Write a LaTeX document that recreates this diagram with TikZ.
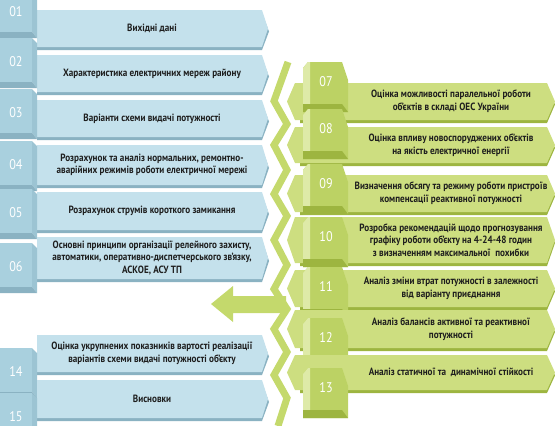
\documentclass[tikz,border=0pt]{standalone}
\usepackage{fontspec}
\setmainfont{PT Sans}[FakeStretch=0.87]
\definecolor{bban}{HTML}{C4E1EC}
\definecolor{btab}{HTML}{A9D0DE}
\definecolor{bside}{HTML}{9CC4D3}
\definecolor{bdark}{HTML}{8AB2C2}
\definecolor{gban}{HTML}{CDDE80}
\definecolor{gtab}{HTML}{BCD264}
\definecolor{glight}{HTML}{DEEAA8}
\definecolor{gdark}{HTML}{9DB540}
\definecolor{gzig}{HTML}{C4D96C}
\definecolor{txt}{HTML}{1E1E1E}
\tikzset{
  btxt/.style={align=center,text=txt,font=\bfseries\fontsize{10.5}{12.6}\selectfont,inner sep=0pt},
  gtxt/.style={align=center,text=txt,font=\bfseries\fontsize{10.5}{12.6}\selectfont,inner sep=0pt},
  numtxt/.style={text=white,font=\fontsize{14}{14}\selectfont,inner sep=0pt},
}
\begin{document}
\begin{tikzpicture}[x=1pt,y=-1pt]
\useasboundingbox (0,0) rectangle (555,426);
\clip (0,0) rectangle (555,426);
% zigzag connector band
\draw[gzig,line width=7pt,line join=miter,miter limit=10]
  (288,62) -- (274,101) -- (287,124) -- (274,145) -- (287,170) -- (274,194)
  -- (287,216) -- (274,240) -- (287,265) -- (274,289) -- (287,309) -- (274,329)
  -- (287,352) -- (274,375) -- (287,398) -- (278,426);
% big arrow
\fill[gzig] (211,304) -- (233,286) -- (233,296) -- (286,296) -- (286,313)
  -- (233,313) -- (233,322) -- cycle;
% ---------- blue column ----------
\foreach \nm/\ny/\t/\b/\txt in {
  01/12/10/47/{Вихідні дані},
  02/62/55/92/{Характеристика електричних мереж району},
  03/113/100/137/{Варіанти схеми видачі потужності},
  04/165/145/185/{Розрахунок та аналіз нормальних, ремонтно-\\аварійних режимів роботи електричної мережі},
  05/213/192/230/{Розрахунок струмів короткого замикання},
  06/267/237/279/{Основні принципи організації релейного захисту,\\автоматики, оперативно-диспетчерського зв’язку,\\АСКОЕ, АСУ ТП},
  14/372/335/372/{Оцінка укрупнених показників вартості реалізації\\варіантів схеми видачі потужності об’єкту},
  15/417/380/418/{Висновки}}
{
  \fill[bdark] (37,\t+3) -- (262,\t+3) -- (269,{(\t+\b)/2+3}) -- (262,\b+3) -- (37,\b+3) -- cycle;
  \fill[bban] (37,\t) -- (262,\t) -- (268,{(\t+\b)/2}) -- (262,\b) -- (37,\b) -- cycle;
  \fill[btab] (0,\ny-24) rectangle (32,\ny+20);
  \fill[bside] (32,\ny-24) -- (37,\ny-19) -- (37,\ny+26) -- (32,\ny+20) -- cycle;
  \fill[bdark] (0,\ny+20) -- (32,\ny+20) -- (37,\ny+26) -- (0,\ny+26) -- cycle;
  \node[numtxt] (bn\nm) at (16,\ny) {\nm};
  \node[btxt] (bt\nm) at (152,{(\t+\b)/2}) {\txt};
}
% ---------- green column ----------
\foreach \nm/\ny/\t/\b/\txt in {
  07/82/83/120/{Оцінка можливості паралельної роботи\\об’єктів в складі ОЕС України},
  08/129/127/163/{Оцінка впливу новоспоруджених об’єктів\\на якість електричної енергії},
  09/184/175/212/{Визначення обсягу та режиму роботи пристроїв\\компенсації реактивної потужності},
  10/237/217/263/{Розробка рекомендацій щодо прогнозування\\графіку роботи об’єкту на 4-24-48 годин\\з визначенням максимальної\ \ похибки},
  11/287/270/307/{Аналіз зміни втрат потужності в залежності\\від варіанту приєднання},
  12/338/310/348/{Аналіз балансів активної та реактивної\\потужності},
  13/388/355/390/{Аналіз статичної та\ \ динамічної стійкості}}
{
  \fill[gdark] (300,\t+3) -- (547,\t+3) -- (555,{(\t+\b)/2+3}) -- (547,\b+3) -- (300,\b+3) -- cycle;
  \fill[gban] (295,\t) -- (547,\t) -- (555,{(\t+\b)/2}) -- (547,\b) -- (295,\b) -- (287,{(\t+\b)/2}) -- cycle;
  \fill[gtab] (303,\ny-14) -- (308,\ny-20) -- (342,\ny-20) -- (348,\ny-2) -- (348,\ny+30) -- (303,\ny+30) -- cycle;
  \fill[glight] (303,\ny-14) -- (308,\ny-20) -- (310,\ny-20) -- (310,\ny+22) -- (303,\ny+22) -- cycle;
  \fill[gdark] (303,\ny+22) -- (342,\ny+22) -- (348,\ny+30) -- (303,\ny+30) -- cycle;
  \node[numtxt] (gn\nm) at (326,\ny) {\nm};
  \node[gtxt] (gt\nm) at (451,{(\t+\b)/2}) {\txt};
}
\end{tikzpicture}
\end{document}
